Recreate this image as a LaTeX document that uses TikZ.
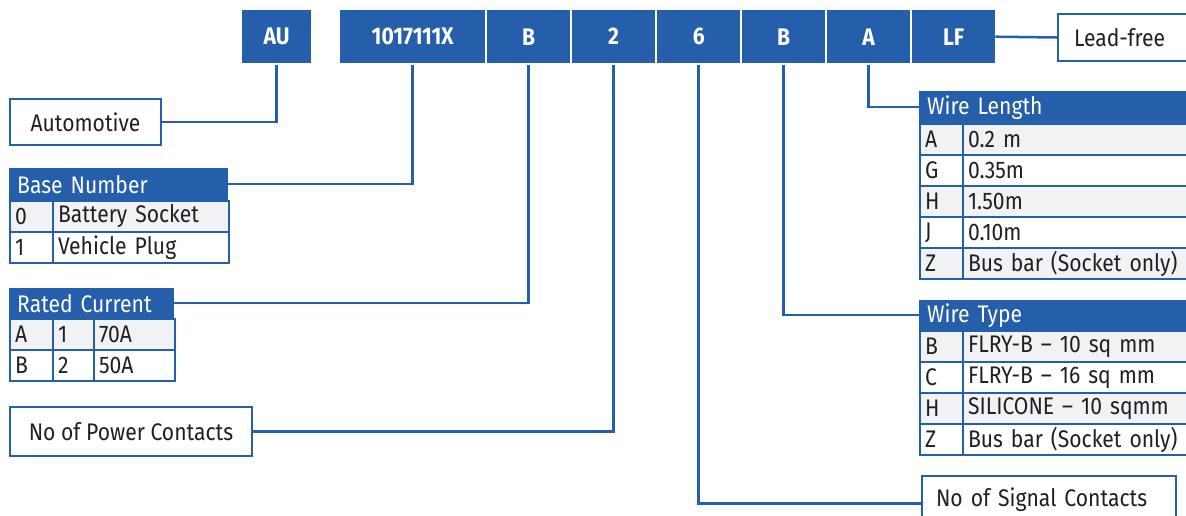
\documentclass[tikz,border=0pt]{standalone}
\usepackage{fontspec}
\setmainfont{Fira Sans}[FakeStretch=0.88]
\definecolor{partblue}{RGB}{37,94,171}
\definecolor{rowgray}{RGB}{241,242,244}
\definecolor{inkgray}{RGB}{35,31,32}
\tikzset{
	code/.style={anchor=north west, fill=partblue, text=white, inner sep=0pt, minimum height=53pt, font=\fontsize{24}{28}\selectfont\bfseries},
	infobox/.style={anchor=north west, draw=partblue, line width=2pt, fill=white, text=inkgray, inner sep=0pt, font=\fontsize{24}{28}\selectfont},
	head/.style={anchor=north west, fill=partblue, text=white, inner xsep=8pt, inner ysep=0pt, align=left, font=\fontsize{24}{28}\selectfont},
	cell/.style={anchor=north west, draw=partblue, line width=2pt, text=inkgray, inner xsep=5pt, inner ysep=0pt, minimum height=31pt, align=left, font=\fontsize{24}{28}\selectfont},
	shaded/.style={fill=rowgray},
	link/.style={draw=partblue, line width=2.5pt}
}
\begin{document}
\begin{tikzpicture}[x=1pt, y=-1pt]
		\clip (0,0) rectangle (1186,515);
		\fill[white] (0,0) rectangle (1186,515);

		\node[code, minimum width=69pt] (AU) at (242,10) {AU};
		\node[code, minimum width=145pt] (part) at (340,10) {1017111X};
		\node[code, minimum width=83pt] (cur) at (487,10) {B};
		\node[code, minimum width=83pt] (pow) at (572,10) {2};
		\node[code, minimum width=83pt] (sig) at (657,10) {6};
		\node[code, minimum width=83pt] (wire) at (742,10) {B};
		\node[code, minimum width=83pt] (len) at (827,10) {A};
		\node[code, minimum width=83pt] (lf) at (912,10) {LF};

		\node[infobox, minimum width=151pt, minimum height=46pt] (auto) at (9,98) {Automotive};
		\node[infobox, minimum width=150pt, minimum height=47pt, text width=134pt, align=left, inner xsep=16pt] (lead) at (1057,13) {Lead-free};
		\node[infobox, minimum width=242pt, minimum height=49pt] (power) at (9,406) {No of Power Contacts};
		\node[infobox, minimum width=240pt, minimum height=55pt, text width=226pt, align=left, inner xsep=14pt, text depth=12pt] (signal) at (921,475) {No of Signal Contacts};

		\node[head, text width=203pt, minimum height=32pt] (basehead) at (9,168) {Base Number};
		\node[cell, shaded, text width=33pt] (b0k) at (9,200) {0};
		\node[cell, shaded, text width=166pt] (b0v) at (52,200) {Battery Socket};
		\node[cell, text width=33pt] (b1k) at (9,231) {1};
		\node[cell, text width=166pt] (b1v) at (52,231) {Vehicle Plug};

		\node[head, text width=149pt, minimum height=30pt] (curhead) at (9,288) {Rated Current};
		\node[cell, shaded, text width=33pt] (caK) at (9,318) {A};
		\node[cell, shaded, text width=31pt] (caN) at (52,318) {1};
		\node[cell, shaded, text width=71pt] (caV) at (93,318) {70A};
		\node[cell, text width=33pt] (cbK) at (9,349) {B};
		\node[cell, text width=31pt] (cbN) at (52,349) {2};
		\node[cell, text width=71pt] (cbV) at (93,349) {50A};

		\node[head, text width=264pt, minimum height=32pt] (lenhead) at (919,91) {Wire Length};
		\node[cell, shaded, text width=33pt] (laK) at (919,123) {A};
		\node[cell, shaded, text width=227pt] (laV) at (962,123) {0.2 m};
		\node[cell, text width=33pt] (lgK) at (919,154) {G};
		\node[cell, text width=227pt] (lgV) at (962,154) {0.35m};
		\node[cell, shaded, text width=33pt] (lhK) at (919,185) {H};
		\node[cell, shaded, text width=227pt] (lhV) at (962,185) {1.50m};
		\node[cell, text width=33pt] (ljK) at (919,216) {J};
		\node[cell, text width=227pt] (ljV) at (962,216) {0.10m};
		\node[cell, shaded, text width=33pt] (lzK) at (919,247) {Z};
		\node[cell, shaded, text width=227pt] (lzV) at (962,247) {Bus bar (Socket only)};

		\node[head, text width=264pt, minimum height=30pt] (typehead) at (919,300) {Wire Type};
		\node[cell, shaded, text width=33pt] (tbK) at (919,330) {B};
		\node[cell, shaded, text width=227pt] (tbV) at (962,330) {FLRY-B – 10 sq mm};
		\node[cell, text width=33pt] (tcK) at (919,361) {C};
		\node[cell, text width=227pt] (tcV) at (962,361) {FLRY-B – 16 sq mm};
		\node[cell, shaded, text width=33pt] (thK) at (919,392) {H};
		\node[cell, shaded, text width=227pt] (thV) at (962,392) {SILICONE – 10 sqmm};
		\node[cell, text width=33pt] (tzK) at (919,423) {Z};
		\node[cell, text width=227pt] (tzV) at (962,423) {Bus bar (Socket only)};

		\draw[link, shorten >=2pt] (auto.east) -| (AU.south);
		\draw[link, shorten >=2pt] (basehead.east) -| (part.south);
		\draw[link, shorten >=2pt] (curhead.east) -| (cur.south);
		\draw[link, shorten >=2pt] (power.east) -| (pow.south);
		\draw[link, shorten <=2pt] (sig.south) |- (signal.west);
		\draw[link, shorten <=2pt] (wire.south) |- (typehead.west);
		\draw[link, shorten <=2pt] (len.south) |- (lenhead.west);
		\draw[link] (lf.east) -- (lead.west);

	\end{tikzpicture}
\end{document}
